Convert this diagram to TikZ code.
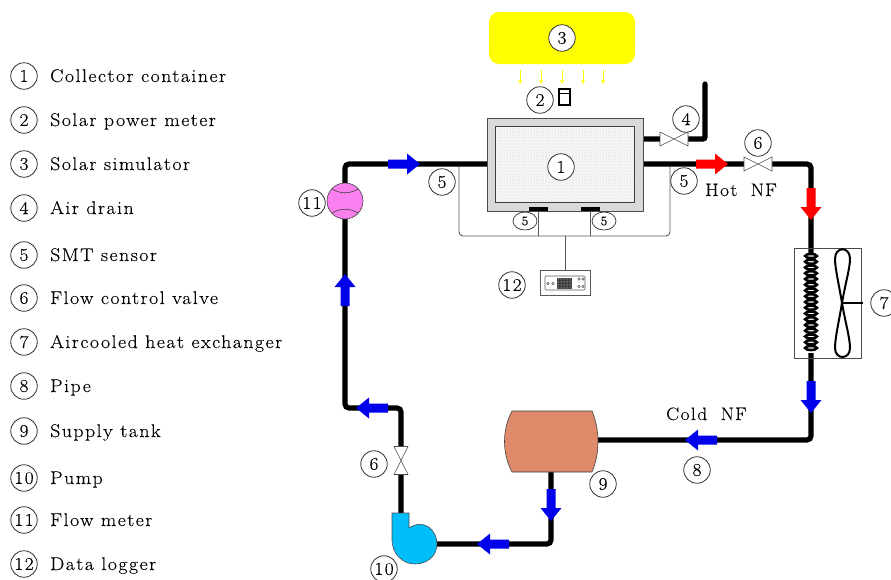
\documentclass[tikz,border=0pt]{standalone}
\usepackage{fontspec}
\setmainfont{Latin Modern Roman}[LetterSpace=8,FakeStretch=1.08,FakeBold=0.15]
\usetikzlibrary{patterns,calc,shapes.geometric,arrows.meta}
\definecolor{flowblue}{RGB}{0,0,235}
\definecolor{tankcol}{RGB}{224,138,108}
\definecolor{pumpcol}{RGB}{0,190,250}
\definecolor{metercol}{RGB}{250,128,240}
\definecolor{wirecol}{gray}{0.35}
\definecolor{sunyellow}{RGB}{255,255,0}
\tikzset{
 pipe/.style={line width=5.2pt,draw=black,rounded corners=4pt,line cap=round},
 wire/.style={draw=wirecol,line width=0.9pt},
 num/.style={circle,draw=black!80,line width=0.8pt,fill=white,minimum size=26.5pt,inner sep=0pt,font=\fontsize{18}{18}\selectfont},
 tiny5/.style={ellipse,draw=black!80,line width=0.7pt,fill=white,minimum width=24pt,minimum height=18pt,inner sep=0pt,font=\fontsize{13}{13}\selectfont},
 legend/.style={anchor=base west,inner sep=0pt,font=\fontsize{18.4}{18}\selectfont},
 lab/.style={anchor=base west,inner sep=0pt,font=\fontsize{18}{18}\selectfont},
 valvebody/.style={draw=black!70,line width=0.6pt,fill=white},
 sunray/.style={draw=sunyellow,line width=0.9pt,-{Stealth[length=4pt,width=4pt]}},
}
\newcommand{\flowarrow}[4]{% x,y of tail, angle, colour
 \fill[#4,shift={(#1,#2)},rotate=#3] (0,-4.5) -- (19,-4.5) -- (19,-10.5) -- (32,0) -- (19,10.5) -- (19,4.5) -- (0,4.5) -- cycle;}
\newcommand{\valveshape}[4]{% x,y,angle,half-height
 \begin{scope}[shift={(#1,#2)},rotate=#3]
 \fill[white] (-14,-3) rectangle (14,3);
 \draw[valvebody] (-14,-#4) -- (14,#4) -- (14,-#4) -- (-14,#4) -- cycle;
 \end{scope}}
\begin{document}
\begin{tikzpicture}[x=1pt,y=-1pt]
\useasboundingbox (0,0) rectangle (891,579);
% named pipe points
\coordinate (fmtop) at (345,183);
\coordinate (fmbot) at (345,219);
\coordinate (cornerA) at (345,164);
\coordinate (cornerB) at (811,164);
\coordinate (cornerC) at (811,440);
\coordinate (tankOut) at (551,472);
\coordinate (cornerD) at (551,544);
\coordinate (pumpOut) at (436,544);
\coordinate (pumpUp) at (401,513);
\coordinate (cornerE) at (401,408);
\coordinate (cornerF) at (345,408);
\coordinate (drainA) at (705,139);
\coordinate (drainB) at (705,84);
% pipes
\draw[pipe] (fmtop) -- (cornerA) -- (487,164);
\draw[pipe] (643,164) -- (cornerB) -- (cornerC) -- (598,440);
\draw[pipe] (tankOut) -- (cornerD) -- (pumpOut);
\draw[pipe] (pumpUp) -- (cornerE) -- (cornerF) -- (fmbot);
\draw[pipe,rounded corners=2pt] (643,139) -- (drainA) -- (drainB);
% sun
\node[draw=none,fill=sunyellow,rounded corners=10pt,minimum width=146pt,minimum height=52pt,inner sep=0pt] (sun) at (562,38) {};
\foreach \x in {520,541,562,583,603} \draw[sunray] (\x,70) -- (\x,84);
\node[num] (n3) at (562,38) {3};
% meter
\node[num] (n2) at (540,100) {2};
\node[draw=black,line width=1.1pt,minimum width=11pt,minimum height=16pt,inner sep=0pt] (meter) at (564.5,97) {};
\draw[black,line width=0.8pt] (559,93) -- (570,93);
% container
\node[draw=black!70,line width=0.7pt,fill=black!15,minimum width=156pt,minimum height=93pt,inner sep=0pt] (cont) at (565,164.5) {};
\fill[black!4] (495,126) rectangle (634,202);
\fill[pattern=dots,pattern color=black!22] (495,126) rectangle (634,202);
\draw[black!75,line width=0.7pt] (495,126) rectangle (634,202);
\node[num] (n1) at (561,167) {1};
\fill[black] (529,207) rectangle (548,211);
\fill[black] (581,207) rectangle (600,211);
% wires
\coordinate (busL) at (459,236);
\coordinate (busR) at (670,236);
\draw[wire,rounded corners=4pt] (459,166) -- (busL) -- (busR) -- (670,166);
\draw[wire] (538,211) -- (538,236);
\draw[wire] (590,211) -- (590,236);
\node[draw=wirecol,line width=0.9pt,fill=white,minimum width=50pt,minimum height=25pt,inner sep=0pt] (logger) at (565,283) {};
\draw[wire] (565,236) -- (logger.north);
\draw[draw=wirecol,line width=0.6pt,rounded corners=1pt] (545,276) rectangle (585,290);
\fill[black!75] (557,277.5) rectangle (572,288.5);
\fill[pattern=dots,pattern color=white] (557,277.5) rectangle (572,288.5);
\foreach \p in {(548,283.5),(553,283.5),(579,279),(583,279),(579,286.5),(583,286.5)}
 \draw[wirecol,line width=0.5pt] \p circle (1.2);
\node[tiny5] (s1) at (525,221) {5};
\node[tiny5] (s2) at (604,221) {5};
% valves
\valveshape{674}{139}{0}{7}
\valveshape{758}{164}{0}{7}
\valveshape{401}{460.5}{90}{7}
% heat exchanger
\node[draw=black!70,line width=0.6pt,minimum width=67pt,minimum height=110pt,inner sep=0pt] (hx) at (827.5,303) {};
\fill[white] (803,253) rectangle (819,353);
\foreach \y in {0,...,16}
 \draw[black,line width=2.6pt] (811,{256+\y*5.75}) ellipse (5.8 and 2);
\draw[black,line width=2pt]
 (842,303) .. controls (839,285) and (835,268) .. (835,259) .. controls (835,246) and (850,246) .. (850,259) .. controls (850,268) and (845,285) .. (842,303)
 .. controls (839,321) and (835,338) .. (835,348) .. controls (835,360) and (850,360) .. (850,348) .. controls (850,338) and (845,321) .. (842,303);
\draw[black,line width=2pt] (842,303) -- (863,303);
% tank
\filldraw[fill=tankcol,draw=black!75,line width=0.6pt] (512,411) -- (592,411) .. controls (600,430) and (600,453) .. (592,472) -- (512,472) .. controls (502,453) and (502,430) .. (512,411) -- cycle;
% pump
\filldraw[fill=pumpcol,draw=black!70,line width=0.6pt] (392,513) -- (409,513) -- (409,528) .. controls (424,518) and (437,530) .. (437,544) .. controls (437,556) and (427,564) .. (415,564) .. controls (401,564) and (392,552) .. (392,540) -- cycle;
% flow meter
\node[circle,draw=black!75,line width=0.6pt,fill=metercol,minimum size=36pt,inner sep=0pt] (fm) at (345,201) {};
\draw[black!75,line width=0.6pt] (332,189) .. controls (340,194) and (350,194) .. (358,189);
\draw[black!75,line width=0.6pt] (332,213) .. controls (340,208) and (350,208) .. (358,213);
% flow arrows
\flowarrow{388}{164}{0}{flowblue}
\flowarrow{696}{164}{0}{red}
\flowarrow{811}{188}{-90}{red}
\flowarrow{811}{381}{-90}{flowblue}
\flowarrow{717}{440}{180}{flowblue}
\flowarrow{551}{489}{-90}{flowblue}
\flowarrow{509}{544}{180}{flowblue}
\flowarrow{388}{408}{180}{flowblue}
\flowarrow{345}{306}{90}{flowblue}
% numbered circles
\node[num] (n4) at (686,119) {4};
\node[num] (n6a) at (758,143) {6};
\node[num] (n5a) at (442,182) {5};
\node[num] (n5b) at (684,181) {5};
\node[num] (n12) at (512,285) {12};
\node[num] (n7) at (884,303) {7};
\node[num] (n8) at (697,470) {8};
\node[num] (n9) at (603,484) {9};
\node[num] (n10) at (384,569) {10};
\node[num] (n6b) at (374,464) {6};
\node[num] (n11) at (312,203) {11};
% labels
\node[lab] (hot) at (705,196) {Hot\hspace{6pt} N\hspace{1pt}F};
\node[lab] (cold) at (666,420) {Cold\hspace{6pt} N\hspace{1pt}F};
% legend
\foreach \i/\y/\t in {1/76/Collector container,2/120/Solar power meter,3/164/Solar simulator,4/208/Air drain,5/255/SMT sensor,6/298/Flow control valve,7/342/Aircooled heat exchanger,8/386/Pipe,9/431/Supply tank,10/478/Pump,11/520/Flow meter,12/564/Data logger}{
 \node[num] (l\i) at (24,\y) {\i};
 \node[legend] (t\i) at (50,\y+6) {\t};
}
\end{tikzpicture}
\end{document}
